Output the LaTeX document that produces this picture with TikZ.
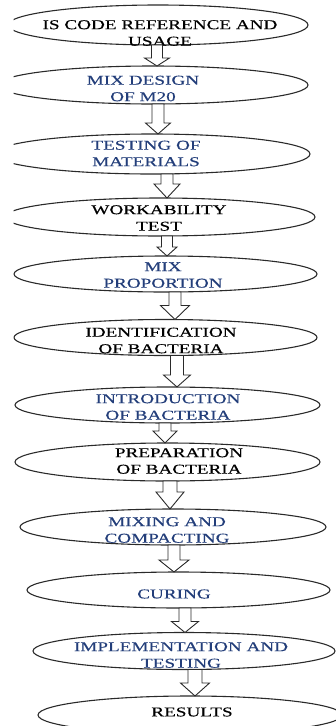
\documentclass[tikz,border=0pt]{standalone}
\usepackage{fontspec}
\setmainfont{Liberation Serif}[FakeStretch=1.42, FakeBold=0.4]
\usetikzlibrary{shapes.geometric,calc}

\definecolor{stepblue}{HTML}{233E7A}
\definecolor{outline}{HTML}{2A2A2A}

\tikzset{
  oval/.style={ellipse, draw=outline, line width=1.1pt, inner sep=0pt, outer sep=0pt},
  label/.style={align=center, inner sep=0pt,
    font=\fontsize{13.5}{16.5}\selectfont},
  bluetext/.style={label, text=stepblue},
  blacktext/.style={label, text=black},
  blockarrow/.style={draw=outline, line width=0.9pt, line join=miter, fill=white},
}

% hollow block arrow from the bottom of #1 to the top of #2 at x=#3;
% #4 head length, #5 half shaft width, #6 half head width
\newcommand\flowarrow[6]{%
  \draw[blockarrow] let \p1=(#3,0 |- #1.south), \p2=(#3,0 |- #2.north) in
    (\x1-#5,\y1) -- (\x1+#5,\y1) -- (\x1+#5,\y2+#4) -- (\x1+#6,\y2+#4)
    -- (\x2,\y2) -- (\x1-#6,\y2+#4) -- (\x1-#5,\y2+#4) -- cycle;}

\newcommand\ovalnode[5]{% name, cx, cy, rx, ry
  \node[oval, minimum width=#4*2pt, minimum height=#5*2pt] (#1) at (#2,#3) {};}

\begin{document}
\begin{tikzpicture}[x=1pt,y=-1pt]
\useasboundingbox (0,0) rectangle (336,726);
\begin{scope}
\clip (13.6,0) rectangle (336,726);

% process steps
\ovalnode{e1}{158}{25}{150}{20}
\ovalnode{e2}{153}{85}{155}{19}
\ovalnode{e3}{152}{154}{158}{20}
\ovalnode{e4}{160}{217}{155}{19}
\ovalnode{e5}{165.5}{274}{151.5}{18}
\ovalnode{e6}{165.5}{337.5}{151.5}{18}
\ovalnode{e7}{167.5}{405}{152.5}{18}
\ovalnode{e8}{167.5}{462}{152.5}{19}
\ovalnode{e9}{173}{527}{153}{18}
\ovalnode{e10}{178.5}{590}{151.5}{18}
\ovalnode{e11}{184}{651}{151}{18.5}
\ovalnode{e12}{190}{715}{152}{19}

% step captions
\node[blacktext] (t1) at (160,33) {IS CODE REFERENCE AND\\USAGE};
\node[bluetext]  (t2) at (143,88.5) {MIX DESIGN\\OF M20};
\node[bluetext]  (t3) at (146,153.5) {TESTING OF\\MATERIALS};
\node[blacktext] (t4) at (159,218) {WORKABILITY\\TEST};
\node[bluetext]  (t5) at (163,275) {MIX\\PROPORTION};
\node[blacktext] (t6) at (161,340.5) {IDENTIFICATION\\OF BACTERIA};
\node[bluetext]  (t7) at (168,407) {INTRODUCTION\\OF BACTERIA};
\node[blacktext] (t8) at (179,461) {PREPARATION\\OF BACTERIA};
\node[bluetext]  (t9) at (167,530) {MIXING AND\\COMPACTING};
\node[bluetext]  (t10) at (174,594) {CURING};
\node[bluetext]  (t11) at (181,655) {IMPLEMENTATION AND\\TESTING};
\node[blacktext] (t12) at (192,712) {RESULTS};

% flow arrows
\flowarrow{e1}{e2}{157}{8}{5.5}{12.5}
\flowarrow{e2}{e3}{158}{11}{6}{12.5}
\flowarrow{e3}{e4}{167}{14}{6}{13}
\flowarrow{e4}{e5}{167}{9}{5.5}{10}
\flowarrow{e5}{e6}{175}{14}{6}{14.5}
\flowarrow{e6}{e7}{177}{12}{6.5}{13.5}
\flowarrow{e7}{e8}{165}{12}{6}{12}
\flowarrow{e8}{e9}{170}{17}{7}{14}
\flowarrow{e9}{e10}{174}{12}{6}{15}
\flowarrow{e10}{e11}{185}{11}{6}{13.5}
\flowarrow{e11}{e12}{195}{13}{7}{14.5}
\end{scope}
\end{tikzpicture}
\end{document}
